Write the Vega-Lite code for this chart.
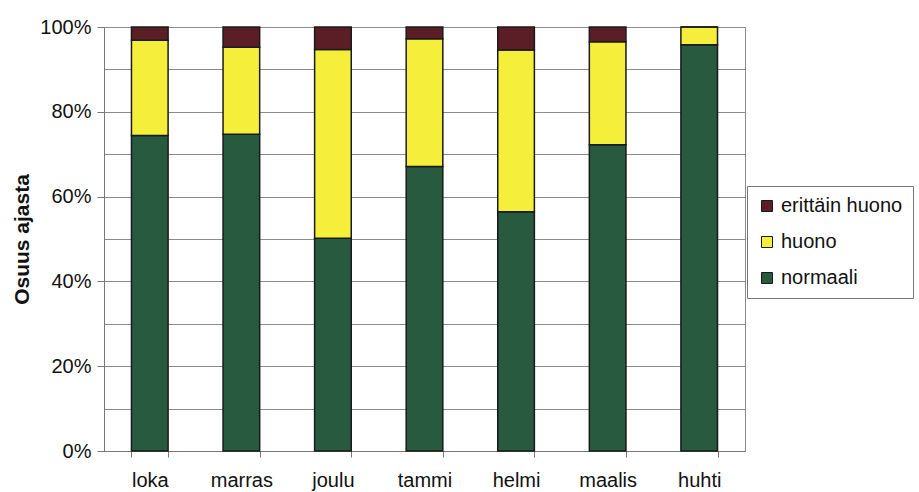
{
  "$schema": "https://vega.github.io/schema/vega-lite/v6.json",
  "width": 641,
  "height": 424,
  "autosize": {"type": "none"},
  "padding": {"left": 104, "top": 27, "right": 174, "bottom": 41},
  "background": "white",
  "config": {
    "font": "Liberation Sans",
    "view": {"stroke": "#8a8a8a", "strokeWidth": 1},
    "axis": {
      "labelFont": "Liberation Sans",
      "titleFont": "Liberation Sans",
      "labelColor": "#111",
      "titleColor": "#111",
      "domainColor": "#777",
      "tickColor": "#777"
    }
  },
  "data": {
    "values": [
      {"kuukausi": "loka", "luokka": "normaali", "osuus": 0.744, "jarj": 1},
      {"kuukausi": "loka", "luokka": "huono", "osuus": 0.225, "jarj": 2},
      {"kuukausi": "loka", "luokka": "erittäin huono", "osuus": 0.031, "jarj": 3},
      {"kuukausi": "marras", "luokka": "normaali", "osuus": 0.747, "jarj": 1},
      {"kuukausi": "marras", "luokka": "huono", "osuus": 0.205, "jarj": 2},
      {"kuukausi": "marras", "luokka": "erittäin huono", "osuus": 0.048, "jarj": 3},
      {"kuukausi": "joulu", "luokka": "normaali", "osuus": 0.502, "jarj": 1},
      {"kuukausi": "joulu", "luokka": "huono", "osuus": 0.445, "jarj": 2},
      {"kuukausi": "joulu", "luokka": "erittäin huono", "osuus": 0.053, "jarj": 3},
      {"kuukausi": "tammi", "luokka": "normaali", "osuus": 0.671, "jarj": 1},
      {"kuukausi": "tammi", "luokka": "huono", "osuus": 0.301, "jarj": 2},
      {"kuukausi": "tammi", "luokka": "erittäin huono", "osuus": 0.028, "jarj": 3},
      {"kuukausi": "helmi", "luokka": "normaali", "osuus": 0.564, "jarj": 1},
      {"kuukausi": "helmi", "luokka": "huono", "osuus": 0.382, "jarj": 2},
      {"kuukausi": "helmi", "luokka": "erittäin huono", "osuus": 0.054, "jarj": 3},
      {"kuukausi": "maalis", "luokka": "normaali", "osuus": 0.722, "jarj": 1},
      {"kuukausi": "maalis", "luokka": "huono", "osuus": 0.243, "jarj": 2},
      {"kuukausi": "maalis", "luokka": "erittäin huono", "osuus": 0.035, "jarj": 3},
      {"kuukausi": "huhti", "luokka": "normaali", "osuus": 0.958, "jarj": 1},
      {"kuukausi": "huhti", "luokka": "huono", "osuus": 0.042, "jarj": 2},
      {"kuukausi": "huhti", "luokka": "erittäin huono", "osuus": 0.0, "jarj": 3}
    ]
  },
  "mark": {"type": "bar", "stroke": "#1a1a1a", "strokeWidth": 1.5},
  "encoding": {
    "x": {
      "field": "kuukausi",
      "type": "nominal",
      "sort": ["loka", "marras", "joulu", "tammi", "helmi", "maalis", "huhti"],
      "scale": {"paddingInner": 0.6, "paddingOuter": 0.3},
      "axis": {
        "title": null,
        "labelAngle": 0,
        "labelFontSize": 20,
        "labelPadding": 13,
        "tickBand": "extent",
        "tickSize": 6,
        "grid": false,
        "domain": true
      }
    },
    "y": {
      "field": "osuus",
      "type": "quantitative",
      "stack": "zero",
      "scale": {"domain": [0, 1]},
      "axis": {
        "title": "Osuus ajasta",
        "titleFontSize": 21,
        "titleFontWeight": "bold",
        "titlePadding": 7,
        "format": ".0%",
        "values": [0, 0.1, 0.2, 0.3, 0.4, 0.5, 0.6, 0.7, 0.8, 0.9, 1],
        "labelExpr": "round(datum.value * 10) % 2 == 0 ? datum.label : ''",
        "labelFontSize": 20,
        "labelPadding": 6,
        "tickSize": 7,
        "tickOpacity": {"condition": {"test": "round(datum.value * 10) % 2 == 0", "value": 1}, "value": 0},
        "grid": true,
        "gridColor": "#8c8c8c",
        "gridWidth": 1
      }
    },
    "color": {
      "field": "luokka",
      "type": "nominal",
      "scale": {
        "domain": ["erittäin huono", "huono", "normaali"],
        "range": ["#5c1e26", "#f5ee3a", "#285a40"]
      },
      "legend": {
        "title": null,
        "orient": "none",
        "legendX": 643,
        "legendY": 159,
        "symbolType": "square",
        "symbolSize": 121,
        "symbolStrokeColor": "#1a1a1a",
        "symbolStrokeWidth": 1,
        "labelFontSize": 20,
        "labelColor": "#111",
        "labelOffset": 4,
        "rowPadding": 16,
        "padding": 10,
        "strokeColor": "#777",
        "fillColor": "white"
      }
    },
    "order": {"field": "jarj", "type": "quantitative"}
  }
}
